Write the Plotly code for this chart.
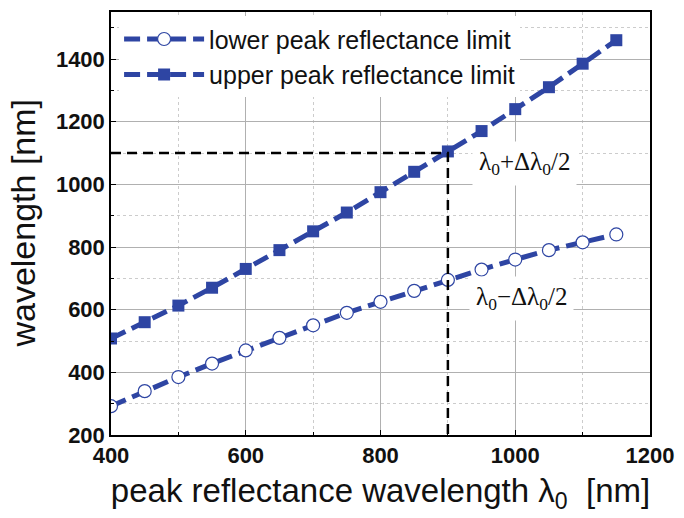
import plotly.graph_objects as go

x_vals = [400, 450, 500, 550, 600, 650, 700, 750, 800, 850, 900, 950, 1000, 1050, 1100, 1150]
lower = [292, 340, 385, 428, 470, 510, 550, 590, 625, 660, 695, 728, 760, 790, 815, 840]
upper = [508, 560, 613, 670, 730, 790, 850, 910, 975, 1040, 1105, 1170, 1240, 1310, 1385, 1460]
x_ticks = [400, 600, 800, 1000, 1200]
y_ticks = [200, 400, 600, 800, 1000, 1200, 1400]
marker_x = 900
marker_y = 1100

blue = "#2E45A3"
fig = go.Figure()
fig.add_trace(go.Scatter(x=x_vals, y=lower, mode="lines+markers", name="lower peak reflectance limit",
                         line=dict(color=blue, width=5, dash="16px,7px"),
                         marker=dict(symbol="circle", size=13, color="white", line=dict(color=blue, width=1.2))))
fig.add_trace(go.Scatter(x=x_vals, y=upper, mode="lines+markers", name="upper peak reflectance limit",
                         line=dict(color=blue, width=5, dash="16px,7px"),
                         marker=dict(symbol="square", size=12, color=blue, line=dict(color=blue, width=0))))
fig.add_trace(go.Scatter(x=[x_ticks[0], marker_x, marker_x], y=[marker_y, marker_y, y_ticks[0]], mode="lines",
                         line=dict(color="black", width=2.5, dash="10px,6px"), showlegend=False))

fig.add_annotation(x=1014, y=1067, text="λ<sub>0</sub>+Δλ<sub>0</sub>/2", showarrow=False,
                   font=dict(family="Liberation Serif", size=25, color="#111"), bgcolor="white", borderpad=6)
fig.add_annotation(x=1010, y=635, text="λ<sub>0</sub>−Δλ<sub>0</sub>/2", showarrow=False,
                   font=dict(family="Liberation Serif", size=25, color="#111"), bgcolor="white", borderpad=6)
fig.add_annotation(xref="paper", yref="paper", x=-0.165, y=0.5, xanchor="center", yanchor="middle",
                   text="wavelength [nm]", textangle=-90, showarrow=False,
                   font=dict(family="Liberation Sans", size=34, color="#111"))

tick_font = dict(family="Liberation Sans", size=22, color="#111", weight="bold")
axis_common = dict(showline=True, linecolor="black", linewidth=1.5, mirror=True,
                   ticks="inside", ticklen=5, tickcolor="black",
                   showgrid=True, gridcolor="#b0b0b0", gridwidth=1,
                   zeroline=False)
fig.update_xaxes(range=[400, 1200], tickvals=x_ticks, tickfont=tick_font,
                 minor=dict(dtick=100, showgrid=True, gridcolor="#cccccc", griddash="dot", ticks="inside", ticklen=3),
                 title=dict(text="peak reflectance wavelength λ<sub>0</sub>  [nm]",
                            font=dict(family="Liberation Sans", size=33, color="#111"), standoff=12),
                 **axis_common)
fig.update_yaxes(range=[200, 1550], tickvals=y_ticks, tickfont=tick_font,
                 minor=dict(dtick=100, showgrid=True, gridcolor="#cccccc", griddash="dot", ticks="inside", ticklen=3),
                 **axis_common)
fig.update_layout(width=684, height=518, margin=dict(l=111, r=27, t=10, b=83),
                  plot_bgcolor="white", paper_bgcolor="white",
                  legend=dict(x=0.015, y=0.99, xanchor="left", yanchor="top", bgcolor="white",
                              font=dict(family="Liberation Sans", size=25, color="#111"),
                              itemwidth=80, tracegroupgap=0))
fig.write_html("out.html")
